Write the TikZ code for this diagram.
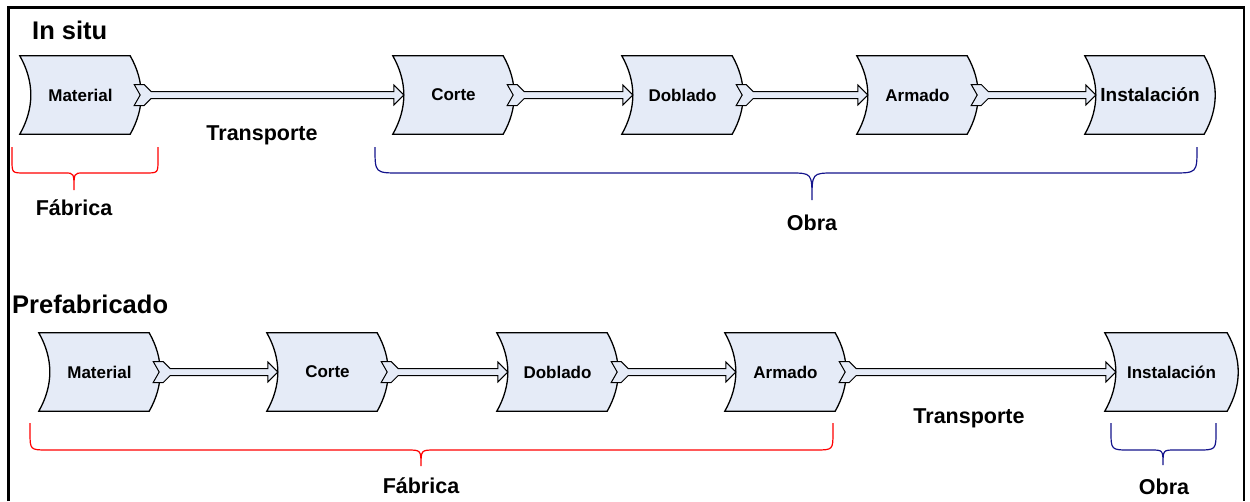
\documentclass[tikz,border=0pt]{standalone}
\usepackage{fontspec}
\setmainfont{Liberation Sans}
\usetikzlibrary{calc,backgrounds}

\definecolor{procblue}{RGB}{229,235,247}
\definecolor{bracered}{RGB}{255,0,0}
\definecolor{braceblue}{RGB}{20,20,140}

\tikzset{
  proc/.style={minimum width=121pt, minimum height=78pt, inner sep=0pt,
    font=\fontsize{17}{19}\selectfont\bfseries},
  procedge/.style={draw=black, line width=1.3pt, fill=procblue},
  flow/.style={draw=black, line width=1pt, fill=procblue},
  lbl/.style={anchor=base, font=\fontsize{21.5}{24}\selectfont\bfseries},
  ttl/.style={anchor=base west, inner sep=0pt, font=\fontsize{25.5}{28}\selectfont\bfseries},
  fab/.style={draw=bracered, line width=1.2pt},
  obr/.style={draw=braceblue, line width=1.2pt},
}

% hollow arrow with notched tail, from box #1 to box #2
\newcommand{\flowarrow}[2]{%
  \draw[flow] ($(#1.east)+(-7,-10.5)$) -- ($(#1.east)+(3,-10.5)$) -- ($(#1.east)+(10,-3.5)$)
    -- ($(#2.west)+(1,-3.5)$) -- ($(#2.west)+(1,-10)$) -- ($(#2.west)+(11,0)$)
    -- ($(#2.west)+(1,10)$) -- ($(#2.west)+(1,3.5)$) -- ($(#1.east)+(10,3.5)$)
    -- ($(#1.east)+(3,10.5)$) -- ($(#1.east)+(-7,10.5)$) -- ($(#1.east)+(-1,0)$) -- cycle;}

% curly bracket: style, left x, right x, tip x, top y, bar y, tip y, corner, tip width
\newcommand{\spanbrace}[9]{%
  \draw[#1] (#2,#5) -- (#2,#6-#8) .. controls (#2,#6) .. (#2+#8,#6)
    -- (#4-#9,#6) .. controls (#4,#6) .. (#4,#7) .. controls (#4,#6) .. (#4+#9,#6)
    -- (#3-#8,#6) .. controls (#3,#6) .. (#3,#6-#8) -- (#3,#5);}

\begin{document}
\begin{tikzpicture}[x=1pt,y=-1pt]
  \useasboundingbox (0,0) rectangle (1250,501);
  % frame, open at the bottom
  \draw[line width=2.5pt] (8.5,501) -- (8.5,7.5) -- (1244,7.5) -- (1244,501);

  % in situ
  \node[ttl] (insitu) at (32,39) {In situ};
  \node[proc] (mat1) at (80.5,95) {Material};
  \node[proc] (cor1) at (453.5,95) {Corte};
  \node[proc] (dob1) at (682.5,95) {Doblado};
  \node[proc] (arm1) at (917.5,95) {Armado};
  \node[proc, minimum width=130pt, font=\fontsize{19}{21}\selectfont\bfseries] (ins1) at (1150,95) {Instalación};

  % prefabricado
  \node[ttl] (prefab) at (12,313) {Prefabricado};
  \node[proc] (mat2) at (99.5,372) {Material};
  \node[proc] (cor2) at (327.5,372) {Corte};
  \node[proc] (dob2) at (557.5,372) {Doblado};
  \node[proc] (arm2) at (785.5,372) {Armado};
  \node[proc, minimum width=133pt] (ins2) at (1171.5,372) {Instalación};

  \begin{scope}[on background layer]
    \foreach \b in {mat1,cor1,dob1,arm1,ins1,mat2,cor2,dob2,arm2,ins2}
      \draw[procedge] (\b.north west) -- ($(\b.north east)+(-11,0)$)
        .. controls ($(\b.north east)+(3.7,26)$) and ($(\b.south east)+(3.7,-26)$) .. ($(\b.south east)+(-11,0)$)
        -- (\b.south west)
        .. controls ($(\b.south west)+(14.7,-26)$) and ($(\b.north west)+(14.7,26)$) .. (\b.north west) -- cycle;
  \end{scope}

  \foreach \a/\b in {mat1/cor1,cor1/dob1,dob1/arm1,arm1/ins1,mat2/cor2,cor2/dob2,dob2/arm2,arm2/ins2}
    {\flowarrow{\a}{\b}}

  \node[lbl] (tra1) at (262,140) {Transporte};
  \node[lbl] (tra2) at (969,423) {Transporte};

  % who does each step
  \spanbrace{fab}{12}{158}{74}{147}{173}{190}{13}{9}
  \node[lbl] (fab1) at (74,215) {Fábrica};
  \spanbrace{obr}{375}{1197}{812}{147}{173}{200}{25}{22}
  \node[lbl] (obr1) at (812,230) {Obra};
  \spanbrace{fab}{30}{833}{421}{423}{450}{466}{18}{14}
  \node[lbl] (fab2) at (421,493) {Fábrica};
  \spanbrace{obr}{1111}{1216}{1163}{423}{450}{465}{19}{12}
  \node[lbl] (obr2) at (1164,494) {Obra};
\end{tikzpicture}
\end{document}
